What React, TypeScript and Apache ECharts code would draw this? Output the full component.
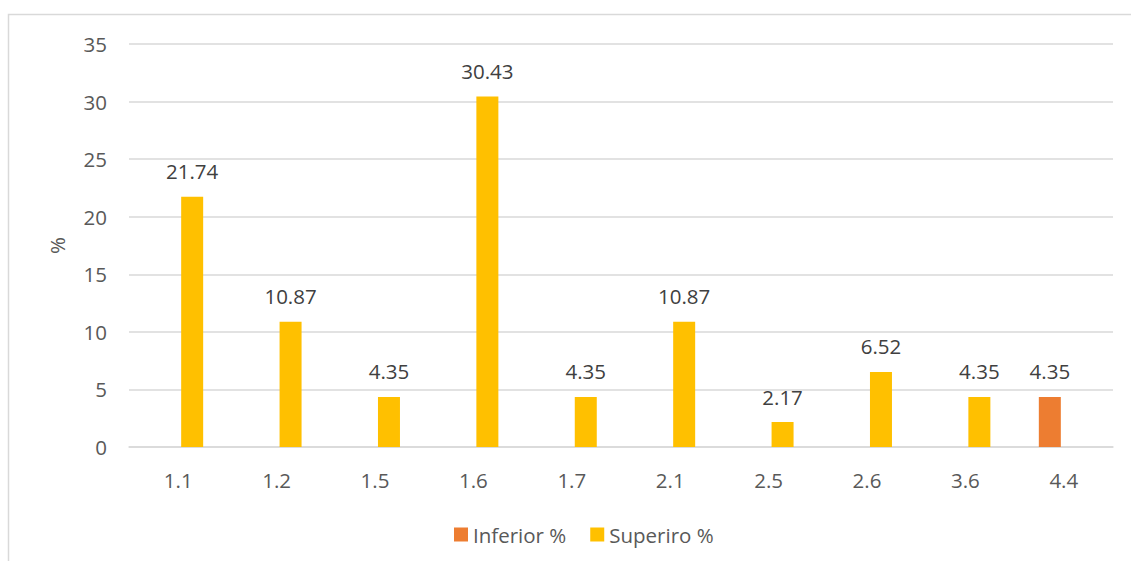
import React, { useEffect, useRef } from "react";
import * as echarts from "echarts";

const categories = ["1.1", "1.2", "1.5", "1.6", "1.7", "2.1", "2.5", "2.6", "3.6", "4.4"];
const inferiorValues = [null, null, null, null, null, null, null, null, null, 4.35];
const superiorValues = [21.74, 10.87, 4.35, 30.43, 4.35, 10.87, 2.17, 6.52, 4.35, null];
const seriesNames = ["Inferior %", "Superiro %"];
const yTicks = { min: 0, max: 35, interval: 5 };

const FONT = "'Open Sans', 'Noto Sans', sans-serif";

export default function App() {
  const ref = useRef<HTMLDivElement>(null);
  useEffect(() => {
    document.body.style.margin = "0";
    const chart = echarts.init(ref.current!, null, { renderer: "svg" });
    const label = {
      show: true,
      position: "top",
      distance: 15,
      color: "#404040",
      fontSize: 20.5,
      fontFamily: FONT,
      formatter: (p: any) => (p.value == null ? "" : p.value.toFixed(2)),
    };
    chart.setOption({
      animation: false,
      backgroundColor: "#ffffff",
      textStyle: { fontFamily: FONT },
      graphic: [
        {
          type: "rect",
          shape: { x: 8.5, y: 14.5, width: 1300, height: 700 },
          style: { fill: "none", stroke: "#d9d9d9", lineWidth: 1.5 },
          silent: true,
        },
      ],
      grid: { left: 129, right: 18, top: 44, bottom: 114 },
      legend: {
        left: 449,
        top: 519,
        itemWidth: 14,
        itemHeight: 14,
        itemGap: 24,
        icon: "rect",
        textStyle: { color: "#595959", fontSize: 20.5, fontFamily: FONT, padding: [0, 0, 0, 0] },
        data: seriesNames,
      },
      xAxis: {
        type: "category",
        data: categories,
        axisLine: { lineStyle: { color: "#d9d9d9", width: 1.5 } },
        axisTick: { show: false },
        axisLabel: { color: "#595959", fontSize: 20.5, fontFamily: FONT, margin: 22 },
      },
      yAxis: {
        type: "value",
        min: yTicks.min,
        max: yTicks.max,
        interval: yTicks.interval,
        name: "%",
        nameLocation: "middle",
        nameGap: 62,
        nameRotate: 90,
        nameTextStyle: { color: "#595959", fontSize: 20.5, fontFamily: FONT },
        axisLine: { show: false },
        axisTick: { show: false },
        axisLabel: { color: "#595959", fontSize: 20.5, fontFamily: FONT, margin: 22 },
        splitLine: { lineStyle: { color: "#d9d9d9", width: 1.5 } },
      },
      series: [
        {
          name: seriesNames[0],
          type: "bar",
          data: inferiorValues,
          barWidth: 22,
          barGap: "27%",
          itemStyle: { color: "#ED7D31" },
          label,
        },
        {
          name: seriesNames[1],
          type: "bar",
          data: superiorValues,
          barWidth: 22,
          barGap: "27%",
          itemStyle: { color: "#FFC000" },
          label,
        },
      ],
    });
    return () => chart.dispose();
  }, []);
  return <div ref={ref} style={{ width: 1131, height: 561 }} />;
}
